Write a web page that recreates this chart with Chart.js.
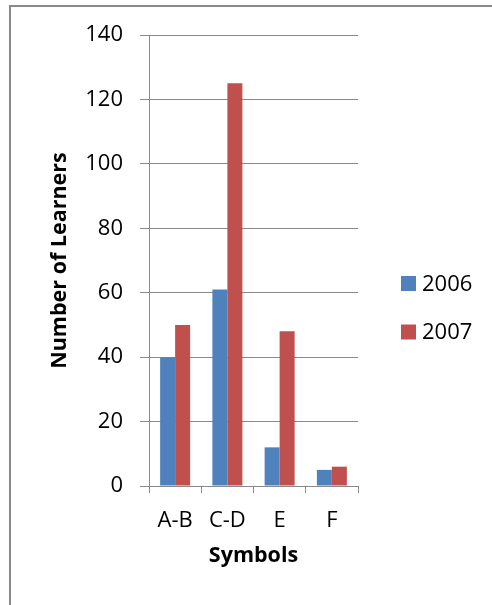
<!DOCTYPE html>
<html>
<head>
<meta charset="utf-8">
<script src="https://cdn.jsdelivr.net/npm/chart.js@4/dist/chart.umd.min.js"></script>
<style>
  html, body { margin: 0; padding: 0; background: #fff; }
  #wrap { position: relative; width: 492px; height: 605px; overflow: hidden; }
  #frame {
    position: absolute; left: 9px; top: 5px; width: 600px; height: 700px;
    border-left: 2px solid #898989; border-top: 2px solid #898989;
    box-sizing: border-box;
  }
  canvas { position: absolute; left: 0; top: 0; }
</style>
</head>
<body>
<div id="wrap">
  <div id="frame"></div>
  <canvas id="learnersChart" width="492" height="605"></canvas>
</div>
<script>
const categories = ['A-B', 'C-D', 'E', 'F'];
const learners2006 = [40, 61, 12, 5];
const learners2007 = [50, 125, 48, 6];
const seriesLabels = ['2006', '2007'];
const yTicks = [0, 20, 40, 60, 80, 100, 120, 140];

const axisGrey = '#8a8a8a';
const tickFont = { family: 'Open Sans', size: 22 };
const titleFont = { family: 'Open Sans', size: 21.5, weight: 'bold' };

// legend on the right, drawn by hand so it sits where Excel put it
const sideLegend = {
  id: 'sideLegend',
  afterDraw(chart) {
    const ctx = chart.ctx;
    ctx.save();
    ctx.font = '22px "Open Sans"';
    ctx.textBaseline = 'middle';
    ctx.textAlign = 'left';
    chart.data.datasets.forEach(function (ds, i) {
      const cy = 283.5 + i * 48.5;
      ctx.fillStyle = ds.backgroundColor;
      ctx.fillRect(401, cy - 7.5, 15, 15);
      ctx.fillStyle = '#000';
      ctx.fillText(ds.label, 422, cy + 1);
    });
    ctx.restore();
  }
};

const ctx = document.getElementById('learnersChart').getContext('2d');
new Chart(ctx, {
  type: 'bar',
  data: {
    labels: categories,
    datasets: [{
      label: seriesLabels[0],
      data: learners2006,
      backgroundColor: '#4F81BD',
      categoryPercentage: 0.574,
      barPercentage: 1
    }, {
      label: seriesLabels[1],
      data: learners2007,
      backgroundColor: '#C0504D',
      categoryPercentage: 0.574,
      barPercentage: 1
    }]
  },
  options: {
    responsive: false,
    animation: false,
    layout: { padding: { left: 43, top: 35, right: 134, bottom: 32 } },
    plugins: {
      legend: { display: false },
      tooltip: { enabled: false }
    },
    scales: {
      x: {
        grid: {
          offset: true,
          drawOnChartArea: false,
          drawTicks: true,
          tickLength: 7,
          color: axisGrey,
          lineWidth: 1
        },
        border: { color: axisGrey, width: 1 },
        ticks: { color: '#000', font: tickFont, padding: 15, maxRotation: 0 },
        title: { display: true, text: 'Symbols', color: '#000', font: titleFont, padding: { top: 4, bottom: 4 } },
        afterFit(scale) { scale.height = 87; }
      },
      y: {
        min: 0,
        max: 140,
        afterBuildTicks(scale) { scale.ticks = yTicks.map(v => ({ value: v })); },
        grid: { color: axisGrey, lineWidth: 1, tickLength: 9 },
        border: { color: axisGrey, width: 1 },
        ticks: { color: '#000', font: tickFont, padding: 17 },
        title: { display: true, text: 'Number of Learners', color: '#000', font: titleFont, padding: { top: 4, bottom: 4 } },
        afterFit(scale) { scale.width = 106; }
      }
    }
  },
  plugins: [sideLegend]
});
</script>
</body>
</html>
